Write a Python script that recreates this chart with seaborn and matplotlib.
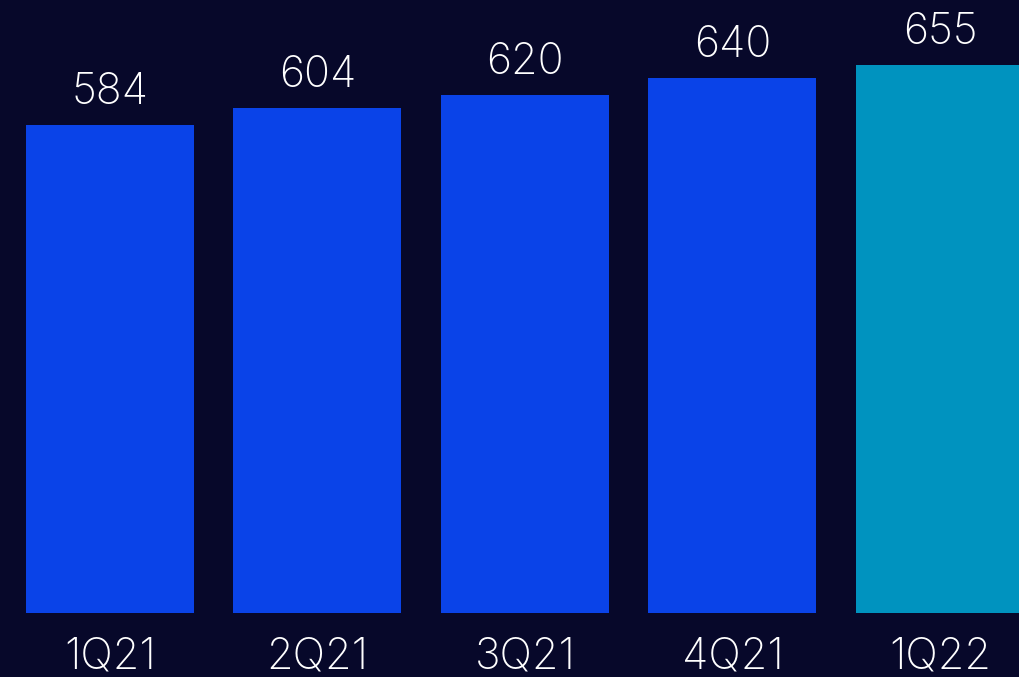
import matplotlib
matplotlib.use("Agg")
import matplotlib.pyplot as plt
import seaborn as sns
import pandas as pd

quarters = ["1Q21", "2Q21", "3Q21", "4Q21", "1Q22"]
values = [584, 604, 620, 640, 655]
bar_colors = ["#0A43E8", "#0A43E8", "#0A43E8", "#0A43E8", "#0093BF"]

bg = "#07082A"
sns.set_theme(style="dark")
plt.rcParams["font.family"] = ["Inter", "DejaVu Sans"]

df = pd.DataFrame({"quarter": quarters, "value": values})

fig = plt.figure(figsize=(10.2, 6.77), dpi=100, facecolor=bg)
ax = fig.add_axes([0, 64 / 677, 1, 613 / 677])
ax.set_facecolor(bg)

sns.barplot(data=df, x="quarter", y="value", hue="quarter",
            palette=bar_colors, width=0.81, saturation=1,
            linewidth=0, edgecolor="none", legend=False, ax=ax)

ax.set_xlim(-0.53, 4.386)
ax.set_ylim(0, 733)

for i, v in enumerate(values):
    ax.annotate(f"{v}", (i, v), xytext=(0, 8.5), textcoords="offset points",
                ha="center", va="bottom", color="white",
                fontsize=31, fontweight="light")

ax.set_xlabel("")
ax.set_ylabel("")
ax.set_yticks([])
ax.tick_params(axis="x", length=0, pad=17, colors="white", labelsize=31)
for lab in ax.get_xticklabels():
    lab.set_fontweight("light")
for s in ax.spines.values():
    s.set_visible(False)
ax.grid(False)

fig.savefig("out.png", dpi=100, facecolor=bg)
